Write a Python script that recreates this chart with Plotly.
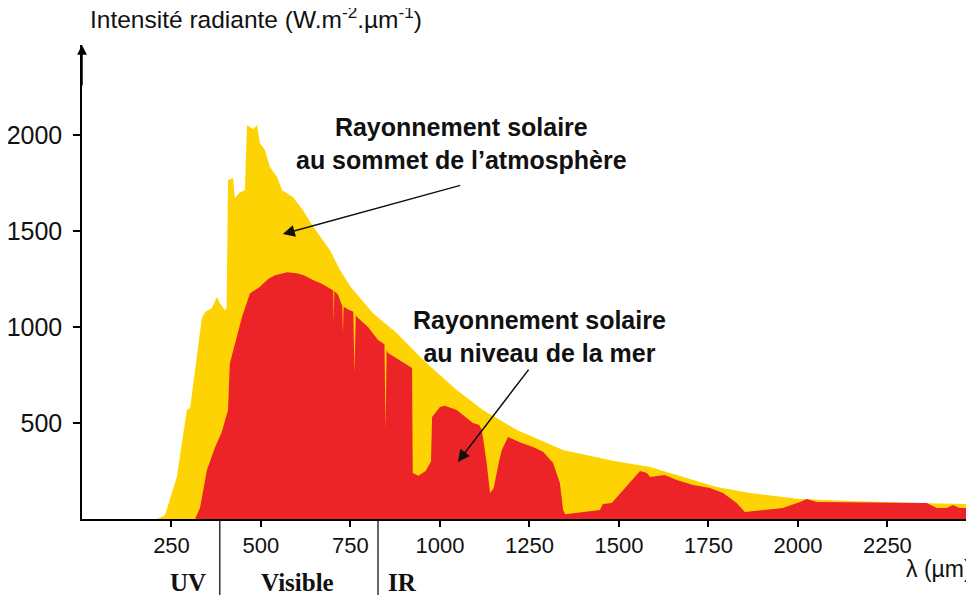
import plotly.graph_objects as go

# Spectre au sommet de l'atmosphère (jaune) : longueur d'onde, intensité
top_wl = [210, 232, 265, 293, 302, 318, 335, 344, 363, 377, 385, 399, 404, 408, 422,
          427, 440, 455, 461, 470, 478, 489, 497, 511, 525, 545, 559, 589, 617, 645,
          670, 693, 720, 749, 813, 880, 953, 1047, 1120, 1215, 1344, 1483, 1587, 1679,
          1773, 1866, 2006, 2145, 2332, 2492]
top_val = [0, 20, 220, 568, 578, 800, 1047, 1078, 1099, 1156, 1125, 1088, 1100, 1766, 1776,
           1672, 1700, 1714, 2052, 2040, 2030, 2052, 1958, 1922, 1833, 1781, 1713, 1677, 1609, 1525,
           1460, 1400, 1300, 1212, 1072, 967, 828, 672, 568, 463, 359, 303, 271, 219,
           167, 135, 104, 94, 83, 78]

# Spectre au niveau de la mer (rouge)
sea_wl = [316, 330, 349, 372, 390, 408, 413, 425, 447, 469, 497, 520, 539, 573, 600,
          620, 645, 670, 698, 702, 703, 705, 715, 727, 729, 731, 745, 758, 761, 765,
          771, 799, 827, 845, 848, 851, 855, 922, 924, 940, 960, 975, 978, 1000, 1014,
          1047, 1092, 1110, 1117, 1130, 1140, 1150, 1165, 1173, 1190, 1223, 1260, 1288, 1316, 1335,
          1344, 1350, 1447, 1455, 1480, 1520, 1559, 1578, 1587, 1628, 1662, 1707, 1754, 1791, 1829,
          1852, 1958, 2006, 2025, 2053, 2200, 2360, 2388, 2416, 2433, 2452, 2492]
sea_val = [0, 60, 255, 375, 450, 568, 810, 900, 1052, 1175, 1210, 1250, 1270, 1285, 1280,
           1270, 1245, 1225, 1193, 1190, 1020, 1188, 1170, 1110, 970, 1105, 1090, 1080, 760, 1060,
           1047, 1000, 932, 910, 464, 880, 865, 786, 240, 225, 250, 300, 531, 583, 590,
           568, 500, 490, 463, 300, 135, 160, 300, 360, 427, 400, 375, 350, 292, 188,
           47, 25, 47, 78, 83, 170, 250, 240, 219, 229, 203, 177, 161, 135, 83,
           36, 57, 89, 104, 89, 86, 83, 57, 57, 73, 57, 57]

x_ticks = [250, 500, 750, 1000, 1250, 1500, 1750, 2000, 2250]
y_ticks = [500, 1000, 1500, 2000]
band_edges = [385, 827]
band_labels = ["UV", "Visible", "IR"]
band_pos = [296, 603, 894]

YELLOW = "#FDD304"
RED = "#EC2327"
SANS = "Liberation Sans, Arial, sans-serif"

fig = go.Figure()
fig.add_trace(go.Scatter(x=top_wl, y=top_val, mode="lines", fill="tozeroy",
                         line=dict(width=0, color=YELLOW), fillcolor=YELLOW,
                         hoverinfo="skip", showlegend=False))
fig.add_trace(go.Scatter(x=sea_wl, y=sea_val, mode="lines", fill="tozeroy",
                         line=dict(width=0, color=RED), fillcolor=RED,
                         hoverinfo="skip", showlegend=False))

annotations = [
    # flèche de l'axe vertical
    dict(x=0, y=2469, ax=0, ay=2250, xref="x", yref="y", axref="x", ayref="y",
         showarrow=True, arrowhead=2, arrowsize=1.3, arrowwidth=1.5, arrowcolor="black", text=""),
    dict(x=0, y=1.057, xref="paper", yref="paper", xanchor="left", yanchor="middle", xshift=6,
         text="Intensité radiante (W.m<sup>-2</sup>.µm<sup>-1</sup>)", showarrow=False,
         font=dict(family=SANS, size=24.5, color="#111")),
    dict(x=1, y=-0.105, xref="paper", yref="paper", xanchor="right", yanchor="middle",
         text="λ (µm)", showarrow=False, font=dict(family=SANS, size=23, color="#111")),
    dict(x=1061, y=1958, xref="x", yref="y", showarrow=False,
         text="<b>Rayonnement solaire<br>au sommet de l’atmosphère</b>",
         font=dict(family=SANS, size=25, color="#111")),
    dict(x=561, y=1484, ax=1061, ay=1740, xref="x", yref="y", axref="x", ayref="y",
         showarrow=True, arrowhead=2, arrowsize=1.6, arrowwidth=1.5, arrowcolor="#111", text=""),
    dict(x=1279, y=953, xref="x", yref="y", showarrow=False,
         text="<b>Rayonnement solaire<br>au niveau de la mer</b>",
         font=dict(family=SANS, size=25, color="#111")),
    dict(x=1050, y=297, ax=1251, ay=786, xref="x", yref="y", axref="x", ayref="y",
         showarrow=True, arrowhead=2, arrowsize=1.6, arrowwidth=1.5, arrowcolor="#111", text=""),
]
for lab, pos in zip(band_labels, band_pos):
    annotations.append(dict(x=pos, y=-0.135, xref="x", yref="paper", showarrow=False,
                            text=f"<b>{lab}</b>", yanchor="middle",
                            font=dict(family="Liberation Serif, Times New Roman, serif",
                                      size=25, color="#111")))

shapes = [dict(type="line", xref="x", yref="paper", x0=e, x1=e, y0=0, y1=-0.2,
               line=dict(color="black", width=1.2)) for e in band_edges]

# la page garde 8 px de marge autour : figure réduite pour tenir sans défilement
fig.update_layout(
    width=966, height=587,
    margin=dict(l=74, r=0, t=37, b=76),
    paper_bgcolor="white", plot_bgcolor="white",
    annotations=annotations, shapes=shapes,
    xaxis=dict(range=[0, 2492], tickvals=x_ticks, ticks="outside", ticklen=6, tickwidth=1.5,
               tickcolor="black", showline=True, linecolor="black", linewidth=1.5,
               showgrid=False, zeroline=False,
               tickfont=dict(family=SANS, size=22, color="#111")),
    yaxis=dict(range=[0, 2469], tickvals=y_ticks, ticks="outside", ticklen=7, tickwidth=1.5,
               tickcolor="black", showline=True, linecolor="black", linewidth=1.5,
               showgrid=False, zeroline=False, ticklabelstandoff=6,
               tickfont=dict(family=SANS, size=25, color="#111")),
)

fig.write_html("out.html")
